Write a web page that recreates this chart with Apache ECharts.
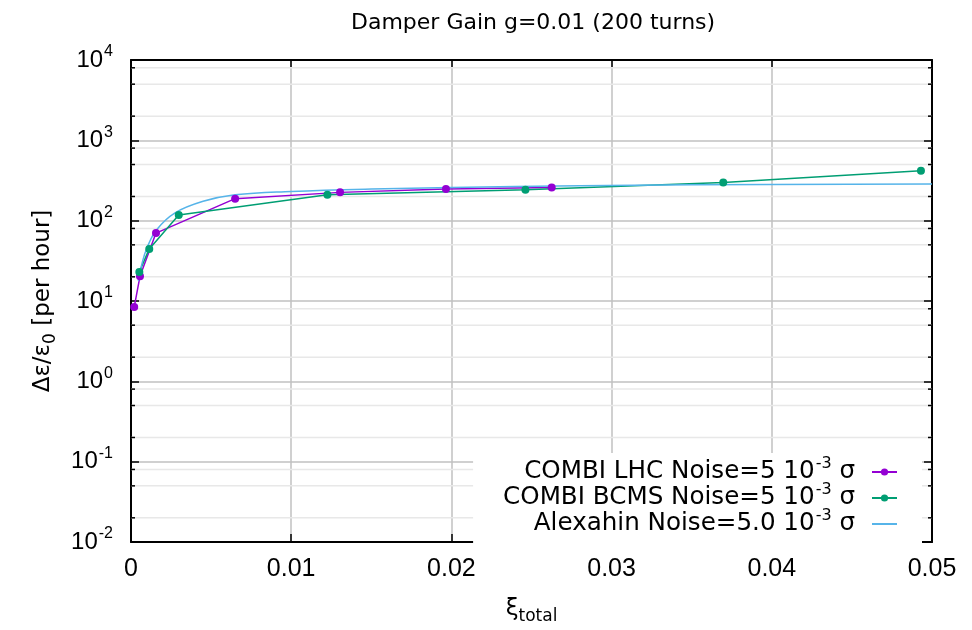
<!DOCTYPE html>
<html>
<head>
<meta charset="utf-8">
<script src="https://cdn.jsdelivr.net/npm/echarts@6/dist/echarts.min.js"></script>
<style>html,body{margin:0;padding:0;background:#fff}#c{width:972px;height:630px}</style>
</head>
<body>
<div id="c"></div>
<script>
// ---- data ----
const lhcX = [0.0002, 0.00056, 0.00156, 0.0065, 0.01305, 0.01966, 0.02626];
const lhcY = [8.4, 20.3, 70, 188, 225, 248, 259];
const bcmsX = [0.00052, 0.00114, 0.00298, 0.01226, 0.02462, 0.03697, 0.04931];
const bcmsY = [23, 44.5, 118, 210, 243, 299, 418];
const alexX = [0.00046, 0.0007, 0.001, 0.0016, 0.00275, 0.0045, 0.0065, 0.01, 0.015, 0.02, 0.028, 0.035, 0.05];
const alexY = [17.7, 30, 46, 77, 125, 174, 210, 231, 248, 258, 272, 279, 286];
const xTicks = [0, 0.01, 0.02, 0.03, 0.04, 0.05];
const minorTickVals = [0.02,0.05,0.08,0.2,0.5,0.8,2,5,8,20,50,80,200,500,800,2000,5000,8000];
const seriesNames = ['COMBI LHC Noise=5 10^-3 σ', 'COMBI BCMS Noise=5 10^-3 σ', 'Alexahin Noise=5.0 10^-3 σ'];

const zip = (xs, ys) => xs.map((x, i) => [x, ys[i]]);
const FONT = 'Liberation Sans';
const WFONT = 'DejaVu Sans';
const supRich = {
  b: {fontFamily: FONT, fontSize: 24, color: '#000', lineHeight: 24},
  s: {fontFamily: FONT, fontSize: 16, color: '#000', lineHeight: 8, padding: [0, 0, 16, 1]}
};
const legRich = {
  b: {fontFamily: WFONT, fontSize: 24.6, color: '#000', lineHeight: 22},
  s: {fontFamily: WFONT, fontSize: 16, color: '#000', lineHeight: 6, padding: [0, 0, 16, 1]},
  g: {fontFamily: WFONT, fontSize: 24.6, color: '#000', lineHeight: 22, padding: [0, 12, 0, 0]}
};

const chart = echarts.init(document.getElementById('c'), null, {renderer: 'canvas'});
const axisBase = {
  axisLine: {show: true, onZero: false, lineStyle: {color: '#000', width: 2}},
};
chart.setOption({
  animation: false,
  backgroundColor: '#fff',
  title: {
    text: 'Damper Gain g=0.01 (200 turns)',
    left: 346, top: 7,
    textStyle: {fontFamily: WFONT, fontSize: 22, fontWeight: 'normal', color: '#000'}
  },
  grid: {left: 131, right: 40, top: 60, bottom: 87},
  legend: {
    orient: 'vertical', right: 50, top: 453,
    align: 'right',
    backgroundColor: '#fff',
    padding: [3, 24, 3, 30],
    itemGap: -6,
    itemWidth: 25, itemHeight: 9,
    data: [
      {name: seriesNames[0]},
      {name: seriesNames[1]},
      {name: seriesNames[2], itemStyle: {opacity: 0}}
    ],
    textStyle: {rich: legRich},
    formatter: function (name) {
      const m = name.match(/^(.*) 10\^(-?\d+) σ$/);
      return '{b|' + m[1] + ' 10}{s|' + m[2] + '}{g| σ}';
    }
  },
  xAxis: [
    Object.assign({}, axisBase, {
      type: 'value', min: 0, max: 0.05, interval: 0.01, position: 'bottom',
      name: '{b|ξ}{t|total}', nameLocation: 'middle', nameGap: 52,
      nameTextStyle: {rich: {
        b: {fontFamily: WFONT, fontSize: 23, color: '#000'},
        t: {fontFamily: WFONT, fontSize: 17, color: '#000', padding: [14, 0, 0, 0]}
      }},
      axisTick: {show: true, inside: true, length: 8, lineStyle: {color: '#000', width: 1.5}},
      axisLabel: {margin: 15, fontFamily: FONT, fontSize: 25, color: '#000',
        formatter: v => (Math.abs(v) < 1e-12 ? '0' : v.toFixed(2))},
      splitLine: {show: true, lineStyle: {color: '#c0c0c0', width: 1.5}}
    }),
    Object.assign({}, axisBase, {
      type: 'value', min: 0, max: 0.05, interval: 0.01, position: 'top',
      axisTick: {show: true, inside: true, length: 8, lineStyle: {color: '#000', width: 1.5}},
      axisLabel: {show: false}, splitLine: {show: false}
    })
  ],
  yAxis: [
    Object.assign({}, axisBase, {
      type: 'log', logBase: 10, min: 0.01, max: 10000, position: 'left',
      name: '{b|Δε/ε}{t|0}{b| [per hour]}', nameLocation: 'middle', nameGap: 72, nameRotate: 90,
      nameTextStyle: {rich: {
        b: {fontFamily: WFONT, fontSize: 23, color: '#000'},
        t: {fontFamily: WFONT, fontSize: 17, color: '#000', padding: [14, 0, 0, 0]}
      }},
      axisTick: {show: true, inside: true, length: 8, lineStyle: {color: '#000', width: 1.5}},
      axisLabel: {margin: 18, rich: supRich,
        formatter: v => '{b|10}{s|' + Math.round(Math.log10(v)) + '}'},
      splitLine: {show: true, lineStyle: {color: '#c0c0c0', width: 1.5}}
    }),
    Object.assign({}, axisBase, {
      type: 'log', logBase: 10, min: 0.01, max: 10000, position: 'right',
      axisTick: {show: true, inside: true, length: 8, lineStyle: {color: '#000', width: 1.5}},
      axisLabel: {show: false}, splitLine: {show: false}
    })
  ],
  series: [
    {
      type: 'custom', name: 'minor', z: 1, silent: true,
      data: minorTickVals.map(v => [0, v]),
      encode: {x: 0, y: 1},
      renderItem: function (params, api) {
        const cs = params.coordSys;
        const y = api.coord([0, api.value(1)])[1];
        return {type: 'group', children: [
          {type: 'line', shape: {x1: cs.x, y1: y, x2: cs.x + cs.width, y2: y}, style: {stroke: '#e8e8e8', lineWidth: 1.5}},
          {type: 'line', shape: {x1: cs.x, y1: y, x2: cs.x + 4, y2: y}, style: {stroke: '#000', lineWidth: 1.5}},
          {type: 'line', shape: {x1: cs.x + cs.width - 4, y1: y, x2: cs.x + cs.width, y2: y}, style: {stroke: '#000', lineWidth: 1.5}}
        ]};
      }
    },
    {
      type: 'line', name: seriesNames[0], data: zip(lhcX, lhcY),
      symbol: 'circle', symbolSize: 8, showSymbol: true,
      lineStyle: {color: '#9400d3', width: 1.5}, itemStyle: {color: '#9400d3'}
    },
    {
      type: 'line', name: seriesNames[1], data: zip(bcmsX, bcmsY),
      symbol: 'circle', symbolSize: 8, showSymbol: true,
      lineStyle: {color: '#009e73', width: 1.5}, itemStyle: {color: '#009e73'}
    },
    {
      type: 'line', name: seriesNames[2], data: zip(alexX, alexY),
      symbol: 'none', smooth: 0.4,
      lineStyle: {color: '#56b4e9', width: 1.5}, itemStyle: {color: '#56b4e9'}
    }
  ]
});
</script>
</body>
</html>
